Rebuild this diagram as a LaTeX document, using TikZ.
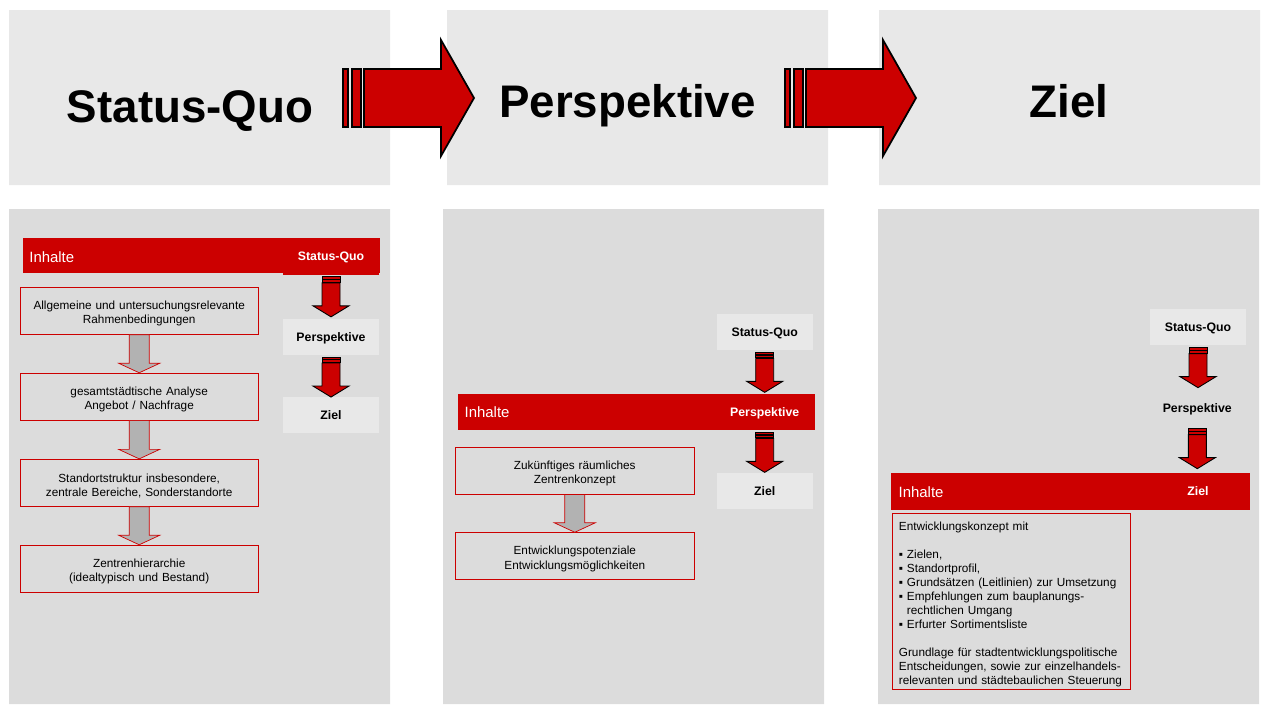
\documentclass[tikz,border=0pt]{standalone}
\usepackage{fontspec}
\setmainfont{Liberation Sans}
\usetikzlibrary{calc}
\definecolor{ired}{RGB}{204,0,0}
\definecolor{toppanel}{RGB}{232,232,232}
\definecolor{botpanel}{RGB}{220,220,220}
\definecolor{arrgray}{RGB}{178,178,178}
% big striped arrow between the top panels
\newcommand\fatarr[1]{%
\begin{scope}[shift={#1}]
\filldraw[fatarrow] (0,-29) rectangle (5,29);
\filldraw[fatarrow] (8.7,-29) rectangle (17.7,29);
\filldraw[fatarrow] (21,-29) -- (98,-29) -- (98,-58) -- (131,0) -- (98,58) -- (98,29) -- (21,29) -- cycle;
\end{scope}}
% small striped arrow below a node
\newcommand\redarr[1]{%
\begin{scope}[shift={($(#1.south)+(0,2)$)}]
\filldraw[redarrow] (-9,0) rectangle (9,2.3);
\filldraw[redarrow] (-9,2.8) rectangle (9,5.5);
\filldraw[redarrow] (-9,6) -- (9,6) -- (9,29) -- (18,29) -- (0,40) -- (-18,29) -- (-9,29) -- cycle;
\end{scope}}
% grey arrow from box to box
\newcommand\grayarr[2]{%
\filldraw[grayarrow] ($(#1.south)+(-10,0)$) -- ($(#1.south)+(10,0)$) -- ($(#2.north)+(10,-9.5)$) -- ($(#2.north)+(20.5,-9.5)$) -- (#2.north) -- ($(#2.north)+(-20.5,-9.5)$) -- ($(#2.north)+(-10,-9.5)$) -- cycle;}
\begin{document}
\begin{tikzpicture}[x=0.02cm,y=-0.02cm,
title/.style={font=\fontsize{26}{30}\selectfont\bfseries,anchor=base,inner sep=0},
flowbox/.style={draw=ired,fill=botpanel,line width=0.5pt,minimum width=4.77cm,minimum height=0.94cm,text width=4.6cm,align=center,inner sep=0,font=\fontsize{6.7}{8}\selectfont,execute at begin node={\rule{0pt}{8pt}}},
lightbox/.style={fill=toppanel,minimum width=1.92cm,minimum height=0.72cm,inner sep=0,text height=5pt,text depth=0pt,font=\fontsize{7}{8}\selectfont\bfseries},
redbox/.style={lightbox,fill=ired,text=white},
inhalt/.style={anchor=west,inner sep=0,text=white,font=\fontsize{8.5}{10}\selectfont},
fatarrow/.style={draw=black,fill=ired,line width=1pt},
redarrow/.style={draw=black,fill=ired,line width=0.5pt},
grayarrow/.style={draw=ired,fill=arrgray,line width=0.4pt}]
\useasboundingbox (0,0) rectangle (1264,704);
% panels
\fill[toppanel] (9,10) rectangle (390,185) (447,10) rectangle (828,185) (879,10) rectangle (1260,185);
\fill[botpanel] (9,209) rectangle (390,704) (443,209) rectangle (824,704) (878,209) rectangle (1259,704);
% headings
\node[title] (t1) at (190,122) {Status-Quo};
\node[title] (t2) at (627.5,117) {Perspektive};
\node[title] (t3) at (1069,117) {Ziel};
\coordinate (g1) at (343,98);
\coordinate (g2) at (785,98);
\fatarr{(g1)}
\fatarr{(g2)}
% Status-Quo
\fill[ired] (23,238) rectangle (380,273.3);
\node[inhalt] (i1) at (29,257) {Inhalte};
\node[redbox] (sq1) at (331,256.5) {Status-Quo};
\node[lightbox] (p1) at (331,336.7) {Perspektive};
\node[lightbox] (z1) at (331,414.7) {Ziel};
\redarr{sq1}
\redarr{p1}
\node[flowbox] (a1) at (139.2,310.8) {Allgemeine und untersuchungsrelevante\\Rahmenbedingungen};
\node[flowbox] (a2) at (139.2,396.7) {gesamtstädtische Analyse\\Angebot / Nachfrage};
\node[flowbox] (a3) at (139.2,482.8) {Standortstruktur insbesondere,\\zentrale Bereiche, Sonderstandorte};
\node[flowbox] (a4) at (139.2,568.7) {Zentrenhierarchie\\(idealtypisch und Bestand)};
\foreach \u/\v in {a1/a2,a2/a3,a3/a4} {\grayarr{\u}{\v}}
% Perspektive
\node[lightbox] (sq2) at (764.7,332) {Status-Quo};
\fill[ired] (458.3,394) rectangle (815,430);
\node[inhalt] (i2) at (464.3,411.7) {Inhalte};
\node[redbox] (p2) at (764.7,412) {Perspektive};
\node[lightbox] (z2) at (764.7,490.8) {Ziel};
\redarr{sq2}
\redarr{p2}
\node[flowbox] (b1) at (574.8,470.5) {Zukünftiges räumliches\\Zentrenkonzept};
\node[flowbox] (b2) at (574.8,556.2) {Entwicklungspotenziale\\Entwicklungsmöglichkeiten};
\grayarr{b1}{b2}
% Ziel
\node[lightbox] (sq3) at (1198,327.3) {Status-Quo};
\node[lightbox,fill=botpanel] (p3) at (1197.3,408.3) {Perspektive};
\redarr{sq3}
\redarr{p3}
\fill[ired] (891,473.3) rectangle (1250,510);
\node[inhalt] (i3) at (898.3,492.3) {Inhalte};
\node[redbox] (z3) at (1198,491.5) {Ziel};
\node[flowbox,anchor=north west,text width=4.5cm,align=left,minimum height=3.52cm] (c1) at (891.7,513.3)
{Entwicklungskonzept mit\\[8pt]
▪ Zielen,\\
▪ Standortprofil,\\
▪ Grundsätzen (Leitlinien) zur Umsetzung\\
▪ Empfehlungen zum bauplanungs-\\
\phantom{▪ }rechtlichen Umgang\\
▪ Erfurter Sortimentsliste\\[8pt]
Grundlage für stadtentwicklungspolitische\\
Entscheidungen, sowie zur einzelhandels-\\
relevanten und städtebaulichen Steuerung};
\end{tikzpicture}
\end{document}
